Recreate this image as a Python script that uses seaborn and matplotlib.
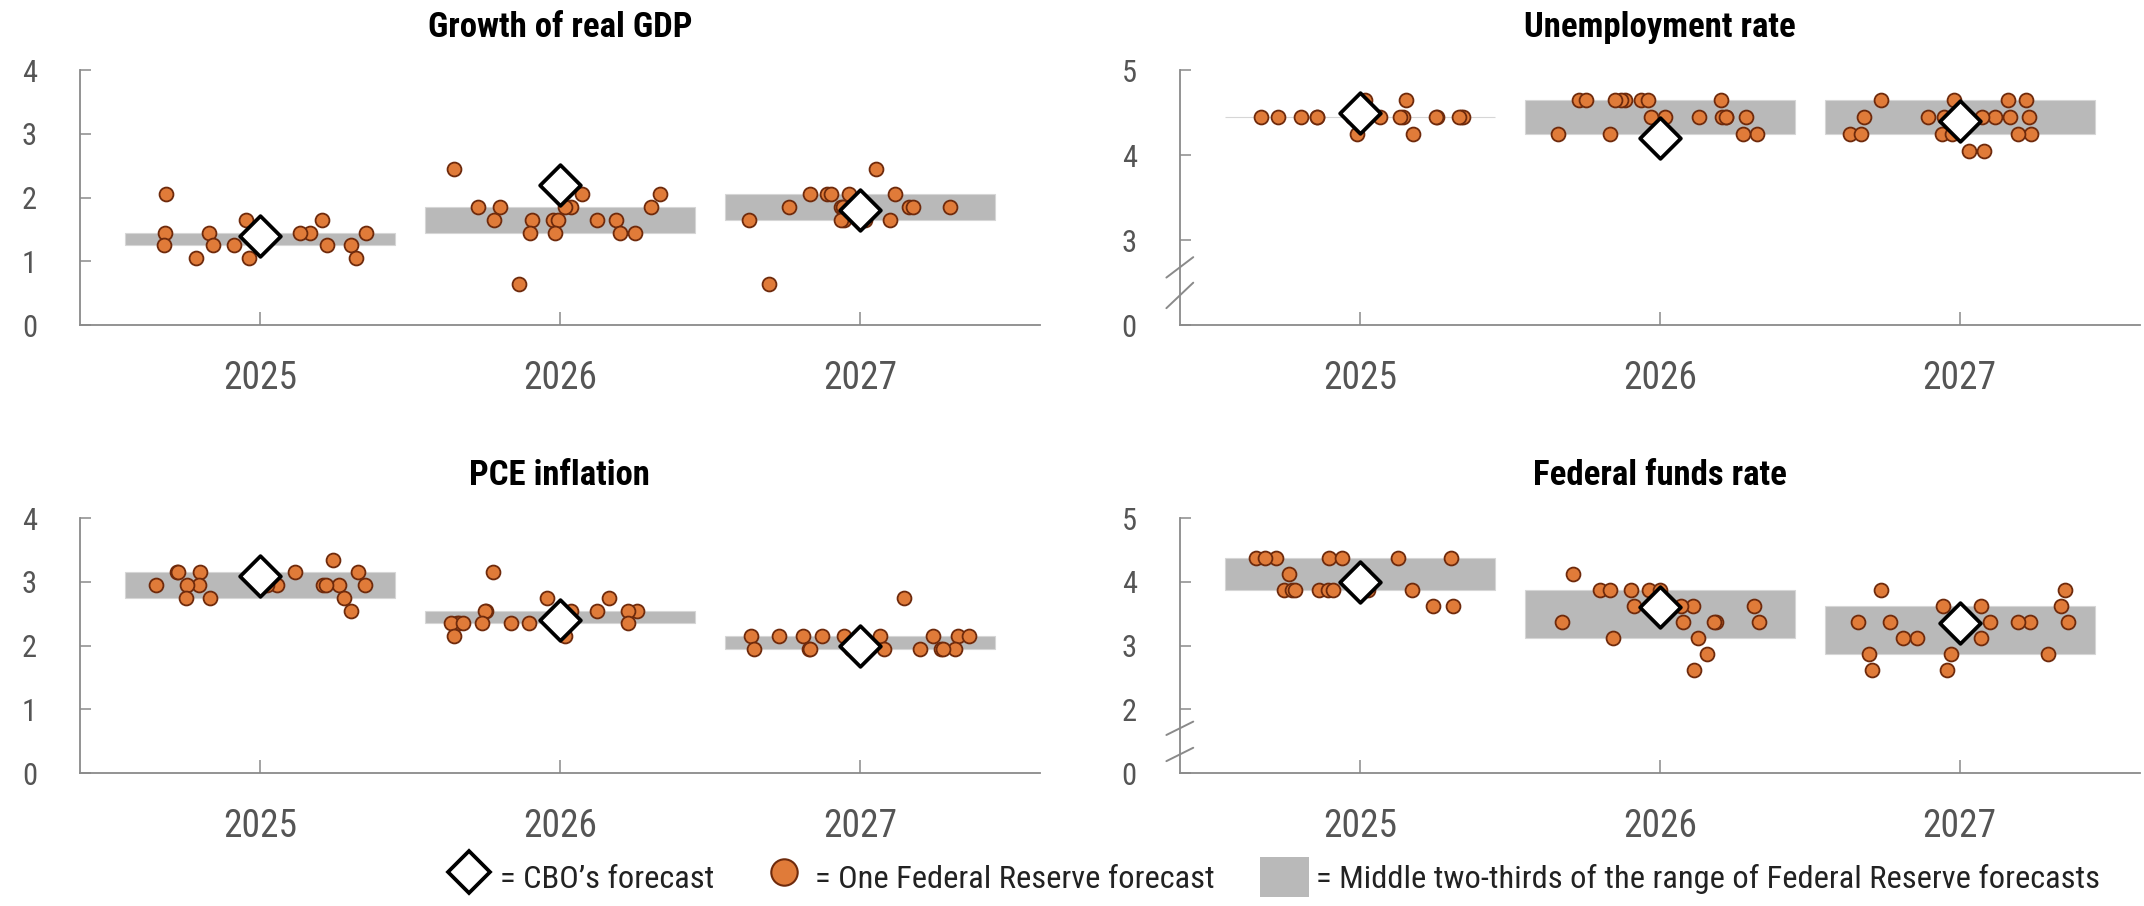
import numpy as np
import pandas as pd
import matplotlib
matplotlib.use('Agg')
import matplotlib.pyplot as plt
from matplotlib import font_manager as fm
from matplotlib.lines import Line2D
from matplotlib.patches import Patch
import seaborn as sns

years = ['2025', '2026', '2027']

# Growth of real GDP (one dot per Fed participant)
gdp_2025 = [2.05, 1.65, 1.65, 1.45, 1.45, 1.45, 1.45, 1.45, 1.45, 1.45, 1.45,
            1.25, 1.25, 1.25, 1.25, 1.25, 1.05, 1.05, 1.05]
gdp_2026 = [2.45, 2.05, 2.05, 1.85, 1.85, 1.85, 1.85, 1.85, 1.65, 1.65, 1.65,
            1.65, 1.65, 1.65, 1.45, 1.45, 1.45, 1.45, 0.65]
gdp_2027 = [2.45, 2.05, 2.05, 2.05, 2.05, 2.05, 1.85, 1.85, 1.85, 1.85, 1.85,
            1.85, 1.85, 1.65, 1.65, 1.65, 1.65, 1.65, 0.65]
gdp_lo = [1.25, 1.45, 1.65]
gdp_hi = [1.45, 1.85, 2.05]
gdp_cbo = [1.4, 2.2, 1.8]

# Unemployment rate
un_2025 = [4.65, 4.65, 4.45, 4.45, 4.45, 4.45, 4.45, 4.45, 4.45, 4.45, 4.45,
           4.45, 4.45, 4.45, 4.45, 4.45, 4.45, 4.25, 4.25]
un_2026 = [4.65, 4.65, 4.65, 4.65, 4.65, 4.65, 4.65, 4.65, 4.45, 4.45, 4.45,
           4.45, 4.45, 4.45, 4.45, 4.25, 4.25, 4.25, 4.25]
un_2027 = [4.65, 4.65, 4.65, 4.65, 4.45, 4.45, 4.45, 4.45, 4.45, 4.45, 4.45,
           4.25, 4.25, 4.25, 4.25, 4.25, 4.25, 4.05, 4.05]
un_lo = [4.45, 4.25, 4.25]
un_hi = [4.45, 4.65, 4.65]
un_cbo = [4.5, 4.2, 4.4]

# PCE inflation
pce_2025 = [3.35, 3.15, 3.15, 3.15, 3.15, 3.15, 2.95, 2.95, 2.95, 2.95, 2.95,
            2.95, 2.95, 2.95, 2.95, 2.75, 2.75, 2.75, 2.55]
pce_2026 = [3.15, 2.75, 2.75, 2.55, 2.55, 2.55, 2.55, 2.55, 2.55, 2.35, 2.35,
            2.35, 2.35, 2.35, 2.35, 2.35, 2.35, 2.15, 2.15]
pce_2027 = [2.75, 2.15, 2.15, 2.15, 2.15, 2.15, 2.15, 2.15, 2.15, 2.15, 1.95,
            1.95, 1.95, 1.95, 1.95, 1.95, 1.95, 1.95, 1.95]
pce_lo = [2.75, 2.35, 1.95]
pce_hi = [3.15, 2.55, 2.15]
pce_cbo = [3.1, 2.4, 2.0]

# Federal funds rate
ffr_2025 = [4.375, 4.375, 4.375, 4.375, 4.375, 4.375, 4.375, 4.125, 4.125,
            3.875, 3.875, 3.875, 3.875, 3.875, 3.875, 3.875, 3.875, 3.625, 3.625]
ffr_2026 = [4.125, 3.875, 3.875, 3.875, 3.875, 3.875, 3.625, 3.625, 3.625,
            3.625, 3.375, 3.375, 3.375, 3.375, 3.375, 3.125, 3.125, 2.875, 2.625]
ffr_2027 = [3.875, 3.875, 3.625, 3.625, 3.625, 3.375, 3.375, 3.375, 3.375,
            3.375, 3.375, 3.125, 3.125, 3.125, 2.875, 2.875, 2.875, 2.625, 2.625]
ffr_lo = [3.875, 3.125, 2.875]
ffr_hi = [4.375, 3.875, 3.625]
ffr_cbo = [4.0, 3.6, 3.35]

orange = '#e07b39'
brown = '#6e2a0c'
band_gray = '#b9b9b9'
axis_gray = '#8a8a8a'
label_gray = '#555555'

sns.set_theme(style='white')
plt.rcParams['font.family'] = ['DejaVu Sans']


# look for a narrow / condensed face (the original uses a condensed sans)
def find_condensed():
    prefs = ['liberationsansnarrow', 'robotocondensed', 'notosans-condensed',
             'opensans-condensed', 'opensans_condensed', 'dejavusanscondensed']
    files = [f.fname for f in fm.fontManager.ttflist]
    skip_reg = ['bold', 'italic', 'oblique', 'light', 'medium', 'black', 'thin', 'semi', 'extra']
    skip_bold = ['italic', 'oblique', 'semi', 'extra']
    for key in prefs:
        hits = [p for p in files if key in p.lower().replace(' ', '')]
        if not hits:
            continue
        reg = [p for p in hits if not any(w in p.lower() for w in skip_reg)]
        bold = [p for p in hits if 'bold' in p.lower() and not any(w in p.lower() for w in skip_bold)]
        if reg:
            return reg[0], (bold[0] if bold else reg[0])
    return None, None


reg_path, bold_path = find_condensed()
if reg_path:
    fp_reg = fm.FontProperties(fname=reg_path)
    fp_bold = fm.FontProperties(fname=bold_path)
else:
    fp_reg = fm.FontProperties(family='DejaVu Sans')
    fp_bold = fm.FontProperties(family='DejaVu Sans', weight='bold')


def fprop(base, size):
    p = base.copy()
    p.set_size(size)
    return p


fig, axes = plt.subplots(2, 2, figsize=(21.44, 9.06), dpi=100)
fig.subplots_adjust(left=0.0373, right=0.998, bottom=0.1465, top=0.9227,
                    wspace=0.1458, hspace=0.756)

panels = [
    (axes[0, 0], 'Growth of real GDP', [gdp_2025, gdp_2026, gdp_2027], gdp_lo, gdp_hi, gdp_cbo,
     (0, 4), [0, 1, 2, 3, 4], ['0', '1', '2', '3', '4'], None),
    (axes[0, 1], 'Unemployment rate', [un_2025, un_2026, un_2027], un_lo, un_hi, un_cbo,
     (2, 5), [2, 3, 4, 5], ['0', '3', '4', '5'], [(2.2, 2.5), (2.56, 2.8)]),
    (axes[1, 0], 'PCE inflation', [pce_2025, pce_2026, pce_2027], pce_lo, pce_hi, pce_cbo,
     (0, 4), [0, 1, 2, 3, 4], ['0', '1', '2', '3', '4'], None),
    (axes[1, 1], 'Federal funds rate', [ffr_2025, ffr_2026, ffr_2027], ffr_lo, ffr_hi, ffr_cbo,
     (1, 5), [1, 2, 3, 4, 5], ['0', '2', '3', '4', '5'], [(1.19, 1.4), (1.6, 1.81)]),
]

np.random.seed(7)
for ax, title, dots, lo, hi, cbo, ylim, yticks, ylabels, breaks in panels:
    df = pd.DataFrame({
        'year': [y for y, vals in zip(years, dots) for _ in vals],
        'value': [v for vals in dots for v in vals],
    })
    pos = np.arange(len(years))
    ax.bar(pos, np.array(hi) - np.array(lo), bottom=lo, width=0.9,
           color=band_gray, edgecolor='#d6d6d6', linewidth=0.8, zorder=1)
    sns.stripplot(data=df, x='year', y='value', order=years, ax=ax, jitter=0.37,
                  color=orange, edgecolor=brown, linewidth=1.3, size=10, zorder=2)
    ax.scatter(pos, cbo, marker='D', s=430, facecolor='white', edgecolor='black',
               linewidth=2.7, zorder=3)

    ax.set_xlim(-0.6, 2.6)
    ax.set_ylim(*ylim)
    ax.set_yticks(yticks)
    ax.set_yticklabels(ylabels, fontproperties=fprop(fp_reg, 22))
    ax.set_xticks(pos)
    ax.set_xticklabels(years, fontproperties=fprop(fp_reg, 27))
    ax.set_xlabel('')
    ax.set_ylabel('')
    ax.set_title(title, fontproperties=fprop(fp_bold, 25), pad=24, color='black')
    sns.despine(ax=ax)
    for s in ['left', 'bottom']:
        ax.spines[s].set_color(axis_gray)
        ax.spines[s].set_linewidth(1.3)
    ax.tick_params(axis='x', direction='in', length=9.5, width=1.1, color=axis_gray,
                   labelcolor=label_gray, pad=25, bottom=True)
    ax.tick_params(axis='y', direction='in', length=8, width=1.1, color=axis_gray,
                   labelcolor=label_gray, pad=31, left=True)

    if breaks:
        tr = ax.get_yaxis_transform()
        for b0, b1 in breaks:
            ax.plot([-0.014, 0.014], [b0, b1], transform=tr, color=axis_gray,
                    linewidth=1.4, clip_on=False, zorder=5)

handles = [
    Line2D([], [], marker='D', linestyle='none', markersize=21, markerfacecolor='white',
           markeredgecolor='black', markeredgewidth=2.7),
    Line2D([], [], marker='o', linestyle='none', markersize=19, markerfacecolor=orange,
           markeredgecolor=brown, markeredgewidth=1.5),
    Patch(facecolor=band_gray, edgecolor='none'),
]
labels = ['= CBO\u2019s forecast', '= One Federal Reserve forecast',
          '= Middle two-thirds of the range of Federal Reserve forecasts']
fig.legend(handles, labels, loc='center right', bbox_to_anchor=(0.993, 0.032), ncol=3,
           frameon=False, prop=fprop(fp_reg, 23.4), handletextpad=0.2, columnspacing=1.4,
           handlelength=1.5, handleheight=1.5, labelcolor='#222222')

fig.savefig('out.png', dpi=100)
